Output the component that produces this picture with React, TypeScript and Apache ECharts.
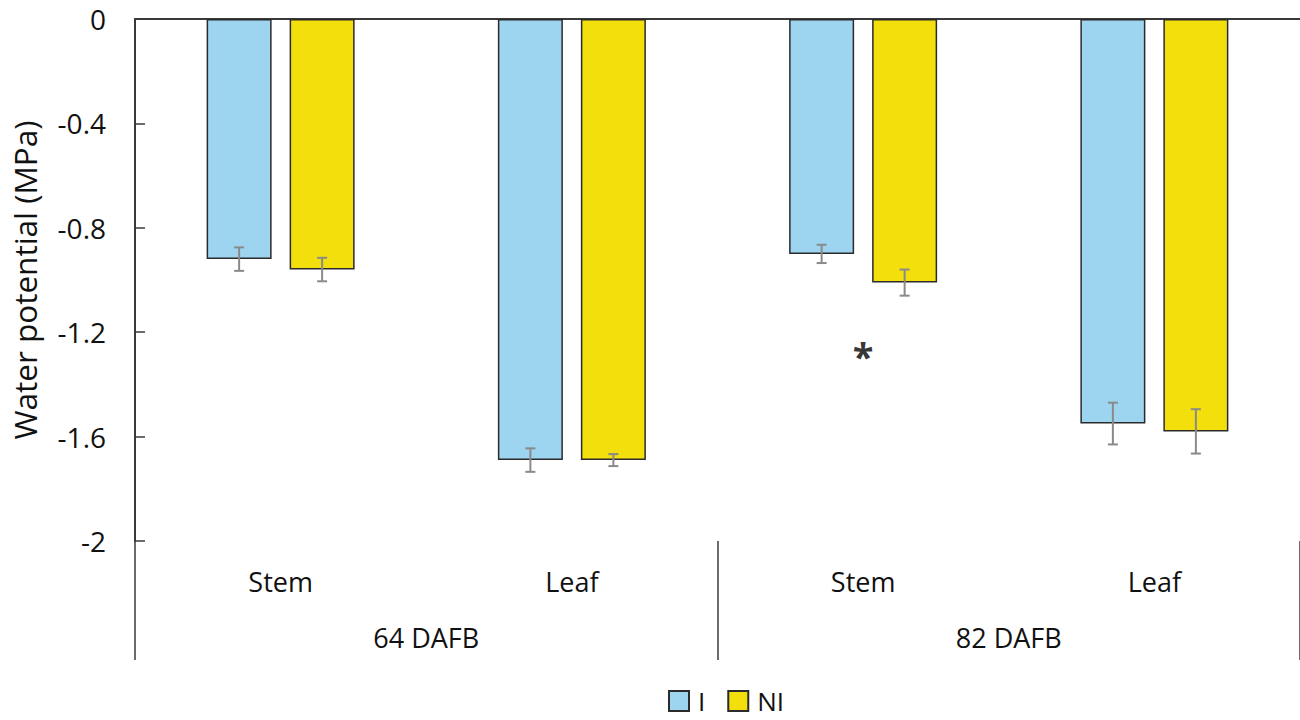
import React, { useEffect, useRef } from "react";
import * as echarts from "echarts";

const categories = ["Stem", "Leaf", "Stem", "Leaf"];
const groups = ["64 DAFB", "82 DAFB"];
const seriesNames = ["I", "NI"];
const valuesI = [-0.92, -1.69, -0.9, -1.55];
const valuesNI = [-0.96, -1.69, -1.01, -1.58];
const errI = [0.045, 0.045, 0.035, 0.08];
const errNI = [0.045, 0.023, 0.05, 0.085];
const yTicks = [0, -0.4, -0.8, -1.2, -1.6, -2];
const significance = [[2, -1.29, "*"]];

const FONT = "Open Sans";
const BAR_W = 65;
const BAR_GAP = 18;

function errorSeries(name: string, values: number[], errs: number[], offset: number) {
  return {
    type: "custom",
    name: name + "-err",
    xAxisIndex: 0,
    z: 5,
    silent: true,
    data: values.map((v, i) => [i, v, errs[i]]),
    renderItem: (params: any, api: any) => {
      const idx = api.value(0);
      const v = api.value(1);
      const e = api.value(2);
      const top = api.coord([idx, v + e]);
      const bot = api.coord([idx, v - e]);
      const x = top[0] + offset;
      const style = { stroke: "#8a8a8a", lineWidth: 2 };
      return {
        type: "group",
        children: [
          { type: "line", shape: { x1: x, y1: top[1], x2: x, y2: bot[1] }, style },
          { type: "line", shape: { x1: x - 5, y1: top[1], x2: x + 5, y2: top[1] }, style },
          { type: "line", shape: { x1: x - 5, y1: bot[1], x2: x + 5, y2: bot[1] }, style },
        ],
      };
    },
  };
}

export default function App() {
  const ref = useRef<HTMLDivElement>(null);
  useEffect(() => {
    document.body.style.margin = "0";
    const chart = echarts.init(ref.current!, null, { renderer: "svg" });
    const off = (BAR_W + BAR_GAP) / 2;
    chart.setOption({
      animation: false,
      backgroundColor: "#ffffff",
      textStyle: { fontFamily: FONT },
      grid: { left: 135, right: 0, top: 19, bottom: 179, containLabel: false },
      legend: {
        data: seriesNames,
        left: 668,
        top: 688,
        padding: 0,
        itemWidth: 20,
        itemHeight: 20,
        itemGap: 22,
        icon: "rect",
        textStyle: { fontFamily: FONT, fontSize: 26, lineHeight: 26, color: "#111", padding: [0, 0, 0, 4] },
      },
      xAxis: [
        {
          type: "category",
          data: categories,
          position: "top",
          axisLine: { show: true, onZero: false, lineStyle: { color: "#3a3a3a", width: 2 } },
          axisTick: { show: false },
          axisLabel: { show: false },
        },
        {
          type: "category",
          data: categories,
          position: "bottom",
          axisLine: { show: false },
          axisTick: { show: false },
          axisLabel: { show: true, margin: 27, fontFamily: FONT, fontSize: 27, color: "#111" },
        },
        {
          type: "category",
          data: groups,
          position: "bottom",
          axisLine: { show: false },
          axisTick: {
            show: true,
            length: 119,
            interval: 0,
            lineStyle: { color: "#3a3a3a", width: 1.5 },
          },
          axisLabel: { show: true, margin: 83, fontFamily: FONT, fontSize: 27, color: "#111" },
        },
      ],
      yAxis: {
        type: "value",
        min: -2,
        max: 0,
        interval: 0.4,
        name: "Water potential (MPa)",
        nameLocation: "middle",
        nameGap: 95,
        nameTextStyle: { fontFamily: FONT, fontSize: 31.5, color: "#111" },
        axisLine: { show: true, lineStyle: { color: "#3a3a3a", width: 2 } },
        axisTick: { show: true, inside: true, length: 10, lineStyle: { color: "#3a3a3a", width: 1.5 } },
        splitLine: { show: false },
        axisLabel: {
          margin: 29,
          fontFamily: FONT,
          fontSize: 28,
          color: "#111",
          formatter: (v: number) => {
            const r = Math.round(v * 10) / 10;
            return yTicks.includes(r) ? String(r) : "";
          },
        },
      },
      series: [
        {
          type: "bar",
          name: seriesNames[0],
          data: valuesI,
          barWidth: BAR_W,
          barGap: (BAR_GAP / BAR_W) * 100 + "%",
          itemStyle: { color: "#9dd5f1", borderColor: "#2b2b2b", borderWidth: 1.5 },
        },
        {
          type: "bar",
          name: seriesNames[1],
          data: valuesNI,
          barWidth: BAR_W,
          barGap: (BAR_GAP / BAR_W) * 100 + "%",
          itemStyle: { color: "#f2df0c", borderColor: "#2b2b2b", borderWidth: 1.5 },
        },
        errorSeries("I", valuesI, errI, -off),
        errorSeries("NI", valuesNI, errNI, off),
        {
          type: "scatter",
          name: "sig",
          symbolSize: 0,
          silent: true,
          data: significance.map((s) => [s[0], s[1]]),
          label: {
            show: true,
            position: "inside",
            formatter: () => String(significance[0][2]),
            fontFamily: FONT,
            fontSize: 38,
            fontWeight: "bold",
            color: "#000",
          },
        },
      ],
    });
    return () => chart.dispose();
  }, []);
  return <div ref={ref} style={{ width: 1300, height: 720 }} />;
}
